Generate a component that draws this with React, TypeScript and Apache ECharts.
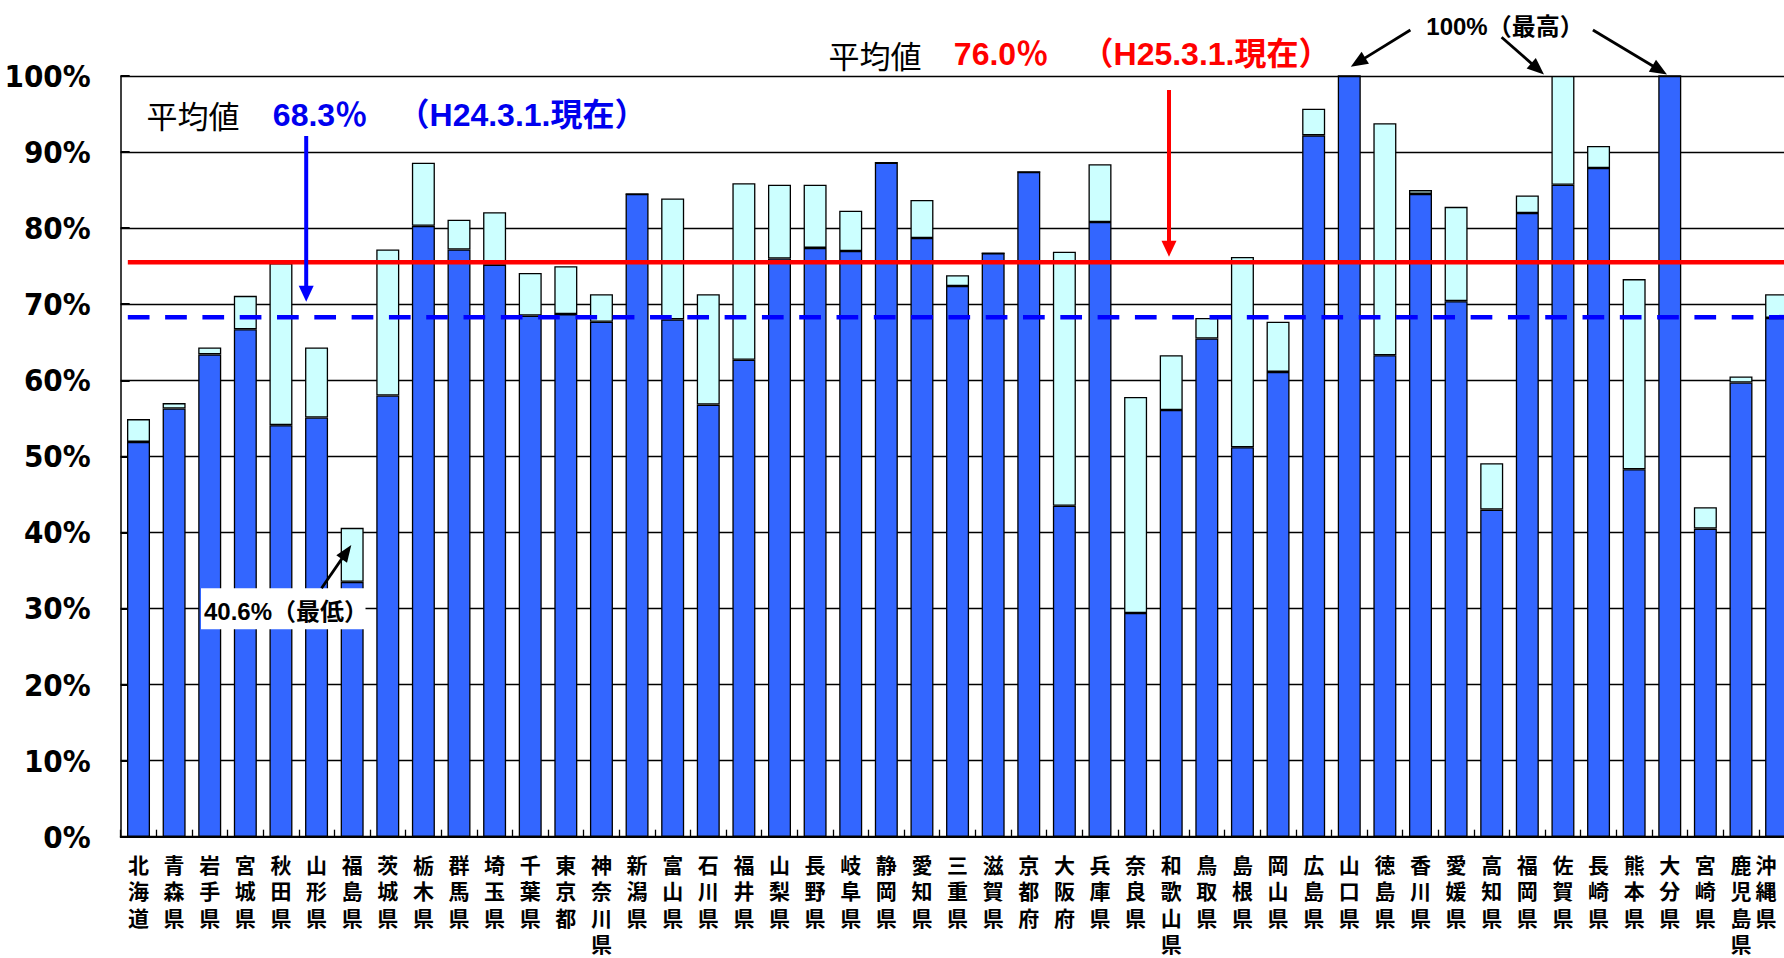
import React, { useEffect, useRef } from "react";
import * as echarts from "echarts";

const prefectures = [
  "北海道", "青森県", "岩手県", "宮城県", "秋田県", "山形県", "福島県", "茨城県", "栃木県", "群馬県",
  "埼玉県", "千葉県", "東京都", "神奈川県", "新潟県", "富山県", "石川県", "福井県", "山梨県", "長野県",
  "岐阜県", "静岡県", "愛知県", "三重県", "滋賀県", "京都府", "大阪府", "兵庫県", "奈良県", "和歌山県",
  "鳥取県", "島根県", "岡山県", "広島県", "山口県", "徳島県", "香川県", "愛媛県", "高知県", "福岡県",
  "佐賀県", "長崎県", "熊本県", "大分県", "宮崎県", "鹿児島県", "沖縄県",
];

// H24.3.1 rate (dark blue part)
const rateH24 = [
  51.9, 56.3, 63.4, 66.7, 54.1, 55.1, 33.5, 58.0, 80.3, 77.2,
  75.2, 68.5, 68.7, 67.7, 84.5, 68.0, 56.8, 62.7, 76.0, 77.4,
  77.0, 88.6, 78.7, 72.4, 76.7, 87.4, 43.5, 80.8, 29.4, 56.1,
  65.5, 51.2, 61.1, 92.2, 100, 63.3, 84.5, 70.4, 43.0, 82.0,
  85.7, 87.9, 48.3, 100, 40.5, 59.7, 68.2,
];

// H25.3.1 rate (top of each bar)
const rateH25 = [
  54.9, 57.0, 64.3, 71.1, 75.4, 64.3, 40.6, 77.2, 88.6, 81.1,
  82.1, 74.1, 75.0, 71.3, 84.5, 83.9, 71.3, 85.9, 85.7, 85.7,
  82.3, 88.6, 83.7, 73.8, 76.7, 87.4, 76.9, 88.4, 57.8, 63.3,
  68.2, 76.2, 67.7, 95.7, 100, 93.8, 85.0, 82.8, 49.1, 84.3,
  100, 90.8, 73.3, 100, 43.3, 60.5, 71.3,
];

const avgH24 = 68.3;
const avgH25Line = 75.5;
const avgH25Label = "76.0";

const yMin = 0;
const yMax = 100;
const yStep = 10;

const CJK = "'Noto Sans CJK JP', sans-serif";
const NUM = "'Liberation Sans', 'Noto Sans CJK JP', sans-serif";
const NARROW = "'Liberation Sans Narrow', 'DejaVu Sans Condensed', 'Liberation Sans', sans-serif";

function arrow(x1: number, y1: number, x2: number, y2: number, color: string, width: number, headLen: number, headW: number) {
  const dx = x2 - x1;
  const dy = y2 - y1;
  const L = Math.hypot(dx, dy);
  const ux = dx / L;
  const uy = dy / L;
  const bx = x2 - ux * headLen;
  const by = y2 - uy * headLen;
  const px = -uy;
  const py = ux;
  return [
    {
      type: "line",
      z: 100,
      silent: true,
      shape: { x1, y1, x2: bx + ux * 2, y2: by + uy * 2 },
      style: { stroke: color, lineWidth: width },
    },
    {
      type: "polygon",
      z: 100,
      silent: true,
      shape: {
        points: [
          [x2, y2],
          [bx + (px * headW) / 2, by + (py * headW) / 2],
          [bx - (px * headW) / 2, by - (py * headW) / 2],
        ],
      },
      style: { fill: color },
    },
  ];
}

function txt(text: string, x: number, y: number, color: string, size: number, weight: string, family: string) {
  return {
    type: "text",
    z: 101,
    silent: true,
    x,
    y,
    style: {
      text,
      fill: color,
      fontSize: size,
      fontWeight: weight,
      fontFamily: family,
      align: "center",
      verticalAlign: "middle",
    },
  };
}

export default function App() {
  const ref = useRef<HTMLDivElement>(null);

  useEffect(() => {
    if (!ref.current) return;
    const chart = echarts.init(ref.current, undefined, { renderer: "svg" });
    const increase = rateH25.map((v, i) => Math.round((v - rateH24[i]) * 10) / 10);

    const graphic: any[] = [
      txt("平均値", 193, 114, "#000", 31, "normal", CJK),
      txt("68.3％", 320, 115, "#0000EE", 32, "bold", NUM),
      txt("（H24.3.1.現在）", 522, 115, "#0000EE", 32, "bold", NUM),
      txt("平均値", 875, 54, "#000", 31, "normal", CJK),
      txt(avgH25Label + "％", 1001, 54, "#FF0000", 32, "bold", NUM),
      txt("（H25.3.1.現在）", 1206, 54, "#FF0000", 32, "bold", NUM),
      ...arrow(306.2, 136, 306.2, 301.7, "#0000FF", 4, 16, 15),
      ...arrow(1169, 90, 1169, 256.7, "#FF0000", 4, 16, 15),
      txt("100%（最高）", 1505, 26, "#000", 24, "bold", NUM),
      ...arrow(1410.4, 30, 1350.8, 66.7, "#000", 2.8, 17, 14),
      ...arrow(1501.6, 37.3, 1544, 74.5, "#000", 2.8, 17, 14),
      ...arrow(1592.9, 30, 1667, 74.5, "#000", 2.8, 17, 14),
      {
        type: "rect",
        z: 99,
        silent: true,
        shape: { x: 201, y: 588.3, width: 164.5, height: 41 },
        style: { fill: "#fff" },
      },
      txt("40.6%（最低）", 286, 611, "#000", 24, "bold", NUM),
      ...arrow(321.5, 588.3, 351.3, 545, "#000", 2.8, 17, 13),
    ];

    chart.setOption({
      animation: false,
      backgroundColor: "#fff",
      grid: {
        left: 120.7,
        top: 76,
        width: 1673.7,
        height: 760.7,
        containLabel: false,
        outerBoundsMode: "none",
      },
      xAxis: [
        {
          type: "category",
          data: prefectures,
          boundaryGap: true,
          axisLine: { show: true, lineStyle: { color: "#000", width: 2 } },
          axisTick: { show: true, inside: true, length: 7, interval: 0, lineStyle: { color: "#000", width: 1.3 } },
          axisLabel: {
            interval: 0,
            margin: 14,
            color: "#000",
            fontSize: 21,
            fontWeight: "bold",
            fontFamily: CJK,
            lineHeight: 26.5,
            verticalAlign: "top",
            alignMaxLabel: "right",
            hideOverlap: false,
            formatter: (v: string) => v.split("").join("\n"),
          },
          splitLine: { show: false },
        },
        { type: "value", min: 0, max: prefectures.length, show: false, splitLine: { show: false } },
      ],
      yAxis: {
        type: "value",
        min: yMin,
        max: yMax,
        interval: yStep,
        axisLine: { show: true, lineStyle: { color: "#000", width: 1.5 } },
        axisTick: { show: true, inside: true, length: 9, lineStyle: { color: "#000", width: 2 } },
        axisLabel: {
          margin: 30,
          color: "#000",
          fontSize: 31,
          fontWeight: "bold",
          fontFamily: NARROW,
          formatter: "{value}%",
        },
        splitLine: { show: true, lineStyle: { color: "#000", width: 1.3 } },
      },
      series: [
        {
          type: "bar",
          name: "H24",
          stack: "rate",
          data: rateH24,
          barWidth: 23,
          itemStyle: { color: "#3366FF", borderColor: "#000", borderWidth: 1.3 },
        },
        {
          type: "bar",
          name: "H25増加",
          stack: "rate",
          data: increase,
          barWidth: 23,
          itemStyle: { color: "#CCFFFF", borderColor: "#000", borderWidth: 1.3 },
        },
        {
          type: "line",
          name: "平均H24",
          xAxisIndex: 1,
          data: [[0.2, avgH24], [prefectures.length, avgH24]],
          symbol: "none",
          z: 5,
          lineStyle: { color: "#0000FF", width: 4.5, type: [21.7, 15.6], cap: "butt" },
        },
        {
          type: "line",
          name: "平均H25",
          xAxisIndex: 1,
          data: [[0.2, avgH25Line], [prefectures.length, avgH25Line]],
          symbol: "none",
          z: 5,
          lineStyle: { color: "#FF0000", width: 4.5 },
        },
      ],
      graphic,
    });

    return () => chart.dispose();
  }, []);

  return (
    <div
      ref={ref}
      style={{ position: "fixed", left: 0, top: 0, width: "1784px", height: "958px", background: "#fff" }}
    />
  );
}
